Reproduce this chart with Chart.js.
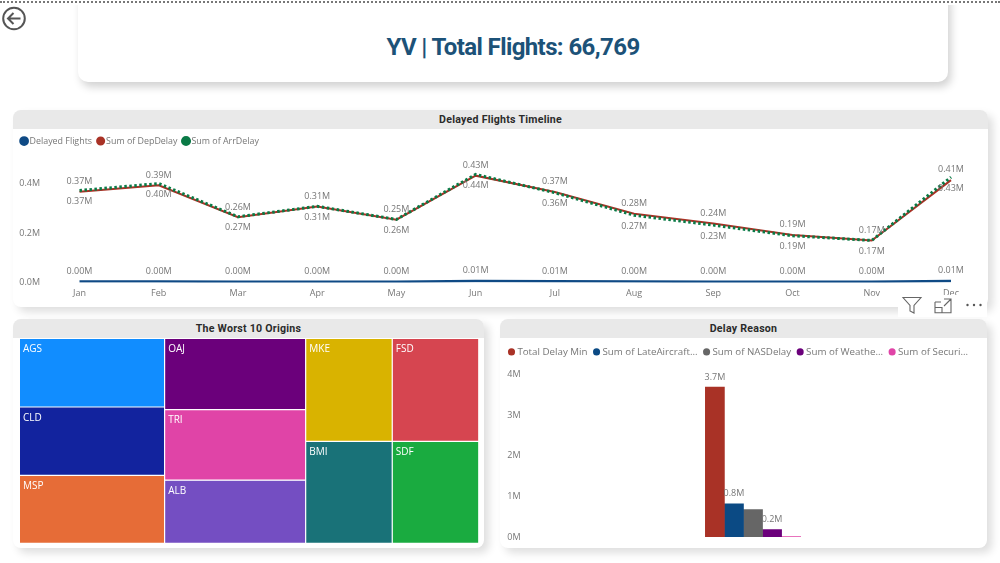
<!DOCTYPE html>
<html><head><meta charset="utf-8">
<script src="https://cdn.jsdelivr.net/npm/chart.js@4"></script>
<style>
html,body{margin:0;padding:0;background:#fff;width:1000px;height:563px;overflow:hidden;font-family:"Open Sans",sans-serif}
.abs{position:absolute}
.dots{left:0;top:1px;width:1000px;height:0;border-top:2px dotted #777;z-index:5}
.panel{background:#fff;border-radius:8px;box-shadow:5px 5px 8px rgba(0,0,0,.13);overflow:hidden}
.head{position:absolute;left:0;right:0;top:0;height:18.5px;background:#e9e9e9;color:#2b2b2b;font:700 10.6px/19px Roboto,sans-serif;text-align:center;letter-spacing:.25px}
#title{left:78px;top:-10px;width:870px;height:92px;background:#fff;border-radius:10px;box-shadow:3px 5px 9px rgba(0,0,0,.18);text-align:center;color:#1c5278;font:700 24px/114px Roboto,sans-serif;letter-spacing:-.6px}
canvas{position:absolute}
</style></head><body>
<div class="abs" id="title">YV | Total Flights: 66,769</div>
<div class="abs" style="left:0;top:0;width:1000px;height:5px;background:#fff"></div>
<div class="abs dots"></div>
<svg class="abs" style="left:2px;top:6px" width="25" height="25" viewBox="0 0 25 25" fill="none" stroke="#555" stroke-width="2"><circle cx="12" cy="12.5" r="10.8"/><path d="M18.5 12.5H6.5M11.5 7l-5.5 5.5 5.5 5.5"/></svg>

<div class="abs panel" style="left:13px;top:110px;width:975px;height:197px"><div class="head">Delayed Flights Timeline</div></div>
<canvas id="lineChart" style="left:13px;top:128px;width:975px;height:179px" width="975" height="179"></canvas>

<div class="abs panel" style="left:13px;top:319px;width:471px;height:229px"><div class="head">The Worst 10 Origins</div></div>
<canvas id="treeChart" style="left:19px;top:338px;width:461px;height:206px" width="461" height="206"></canvas>

<div class="abs panel" style="left:500px;top:319px;width:487px;height:229px"><div class="head">Delay Reason</div></div>
<canvas id="barChart" style="left:500px;top:338px;width:487px;height:210px" width="487" height="210"></canvas>

<div class="abs" style="left:898px;top:294.5px;width:89px;height:22px;background:#fff"></div>
<svg class="abs" style="left:900px;top:296px" width="86" height="20" viewBox="0 0 86 20" fill="none" stroke="#666" stroke-width="1.1">
<path d="M3 1.5h18l-7 8V17l-4-2V9.5z"/>
<path d="M35 6V16.7H51V10M35 11.5h7V16.7M44 3h7v7M51 3l-7 7M35 6h6"/>
<g fill="#555" stroke="none"><circle cx="67.5" cy="9" r="1.2"/><circle cx="74" cy="9" r="1.2"/><circle cx="80.5" cy="9" r="1.2"/></g>
</svg>

<script>
const months = ["Jan","Feb","Mar","Apr","May","Jun","Jul","Aug","Sep","Oct","Nov","Dec"];
const delayedFlights = [0.004,0.004,0.003,0.003,0.003,0.006,0.005,0.004,0.003,0.003,0.003,0.006];
const depDelay = [0.367,0.393,0.264,0.307,0.254,0.432,0.366,0.278,0.239,0.192,0.170,0.414];
const arrDelay = [0.372,0.400,0.266,0.308,0.255,0.437,0.363,0.272,0.232,0.189,0.170,0.426];
const lineTicks = [0,0.2,0.4];

const origins = ["AGS","CLD","MSP","OAJ","TRI","ALB","MKE","BMI","FSD","SDF"];
const originValues = [106,106,105,107,106,95,95,94,95,94];
const originColumns = [3,3,2,2];
const originColors = ["#118dff","#12239e","#e66c37","#6b007b","#e044a7","#744ec2","#d9b300","#197278","#d64550","#1aab40"];

const reasonSeries = ["Total Delay Min","Sum of LateAircraft...","Sum of NASDelay","Sum of Weathe...","Sum of Securi..."];
const reasonValues = [3.70,0.82,0.675,0.18,0.012];
const reasonLabels = ["3.7M","0.8M",null,"0.2M",null];
const reasonColors = ["#a93226","#0b4a84","#666666","#6b007b","#e044a7"];
const reasonTicks = [0,1,2,3,4];

const FONT = '"Open Sans", sans-serif';
const GREY = "#777";

const valueLabels = {
  id:"valueLabels",
  afterDatasetsDraw(chart){
    const ctx = chart.ctx;
    ctx.save();
    ctx.textAlign="center"; ctx.textBaseline="middle";
    ctx.font = "9px "+FONT; ctx.fillStyle=GREY;
    chart.data.datasets.forEach((ds,i)=>{
      if(!ds.pointText) return;
      chart.getDatasetMeta(i).data.forEach((el,j)=>{
        const t = ds.pointText(j);
        if(t!=null) ctx.fillText(t, el.x, el.y+ds.textShift);
      });
    });
    ctx.restore();
  }
};
const legendOf = (size,padding)=>({position:"top",align:"start",
  labels:{usePointStyle:true,pointStyle:"circle",boxWidth:2,boxHeight:5,padding,color:GREY,font:{family:FONT,size},
          sort:(a,b)=>a.datasetIndex-b.datasetIndex}});
const fmtM = v => v.toFixed(2)+"M";
const noPad = s => {s.paddingTop=0;s.paddingBottom=0;};

function lineDataset(label,data,color,shift,width,order,dash){
  return {label,data,borderColor:color,backgroundColor:color,borderWidth:width,borderDash:dash||[],pointRadius:0,tension:0,order,
          textShift:shift,pointText:j=>fmtM(data[j])};
}
new Chart(document.getElementById("lineChart"),{
  type:"line",
  data:{labels:months,datasets:[
    lineDataset("Delayed Flights",delayedFlights,"#0f4a85",-10.2,2.7,2),
    lineDataset("Sum of DepDelay",depDelay,"#a93226",-10.2,2,1),
    lineDataset("Sum of ArrDelay",arrDelay,"#0a7a46",11,3,0,[2.5,2.5])
  ]},
  options:{responsive:false,animation:false,
    layout:{padding:{left:2.5,right:37,top:1,bottom:0}},
    plugins:{legend:legendOf(8.9,7.6),tooltip:{enabled:false}},
    scales:{
      x:{grid:{display:false,drawTicks:false},border:{display:false},offset:false,
         ticks:{color:GREY,font:{family:FONT,size:9},padding:6,autoSkip:false,maxRotation:0},
         afterFit(s){s.height=24.5}},
      y:{min:0,max:0.5135,grid:{display:false,drawTicks:false},border:{display:false},
         afterBuildTicks(s){s.ticks=lineTicks.map(value=>({value}))},
         ticks:{color:GREY,font:{family:FONT,size:9},padding:39.5,callback:v=>v.toFixed(1)+"M"},
         afterFit(s){s.width=64;noPad(s)}}
    }
  },
  plugins:[valueLabels]
});

new Chart(document.getElementById("barChart"),{
  type:"bar",
  data:{labels:["Delay"],datasets:reasonSeries.map((label,i)=>({
    label,data:[reasonValues[i]],backgroundColor:reasonColors[i],barThickness:19.06,
    textShift:-10,pointText:()=>reasonLabels[i]
  }))},
  options:{responsive:false,animation:false,
    layout:{padding:{left:2.5,right:6,top:1,bottom:11}},
    plugins:{legend:legendOf(9.75,8),tooltip:{enabled:false}},
    scales:{
      x:{display:false,grid:{display:false}},
      y:{min:0,max:4.2,grid:{display:false,drawTicks:false},border:{display:false},
         afterBuildTicks(s){s.ticks=reasonTicks.map(value=>({value}))},
         ticks:{color:GREY,font:{family:FONT,size:9},padding:4.4,callback:v=>v+"M"},
         afterFit(s){s.width=22.5;noPad(s)}}
    }
  },
  plugins:[valueLabels]
});

/* A small treemap chart type: each value becomes one cell in a column,
   its size derived from the value and placed through the chart's scales. */
class TreemapController extends Chart.DatasetController{
  update(mode){
    const meta=this._cachedMeta;
    this.updateElements(meta.data,0,meta.data.length,mode);
  }
  updateElements(rects,start,count,mode){
    const {xScale,yScale}=this._cachedMeta;
    const values=this.getDataset().data, columns=this.getDataset().columns;
    const total=values.reduce((a,b)=>a+b,0);
    let first=0,x0=0;
    columns.forEach(n=>{
      const part=values.slice(first,first+n), sum=part.reduce((a,b)=>a+b,0);
      const w=sum/total; let y0=0;
      part.forEach((v,k)=>{
        const h=v/sum;
        const l=xScale.getPixelForValue(x0), r=xScale.getPixelForValue(x0+w);
        const t=yScale.getPixelForValue(y0), b=yScale.getPixelForValue(y0+h);
        this.updateElement(rects[first+k],first+k,{
          x:(l+r)/2,y:t,base:b,width:r-l,height:b-t,horizontal:false,
          inflateAmount:0,borderSkipped:{},enableBorderRadius:false,
          options:this.resolveDataElementOptions(first+k,mode)
        },mode);
        y0+=h;
      });
      x0+=w; first+=n;
    });
  }
}
TreemapController.id="treemap";
TreemapController.defaults={dataElementType:"bar",borderSkipped:false,borderRadius:0};
TreemapController.overrides={scales:{x:{type:"linear"},y:{type:"linear"}}};
Chart.register(TreemapController);

new Chart(document.getElementById("treeChart"),{
  type:"treemap",
  data:{labels:origins,datasets:[{data:originValues,columns:originColumns,
    backgroundColor:originColors,borderColor:"#ffffff",borderWidth:0.6,label:"Origins"}]},
  options:{responsive:false,animation:false,
    layout:{padding:{left:0.4,right:1.2,top:0.5,bottom:0.7}},
    plugins:{legend:{display:false},tooltip:{enabled:false}},
    scales:{x:{type:"linear",min:0,max:1,display:false},y:{type:"linear",min:0,max:1,reverse:true,display:false}}
  },
  plugins:[{id:"cellNames",afterDatasetsDraw(chart){
    const ctx=chart.ctx; ctx.save();
    ctx.font="10px "+FONT; ctx.fillStyle="#fff"; ctx.textAlign="left"; ctx.textBaseline="middle";
    chart.getDatasetMeta(0).data.forEach((el,i)=>{
      ctx.fillText(origins[i], el.x-el.width/2+3.6, el.y+11);
    });
    ctx.restore();
  }}]
});
</script>
</body></html>
